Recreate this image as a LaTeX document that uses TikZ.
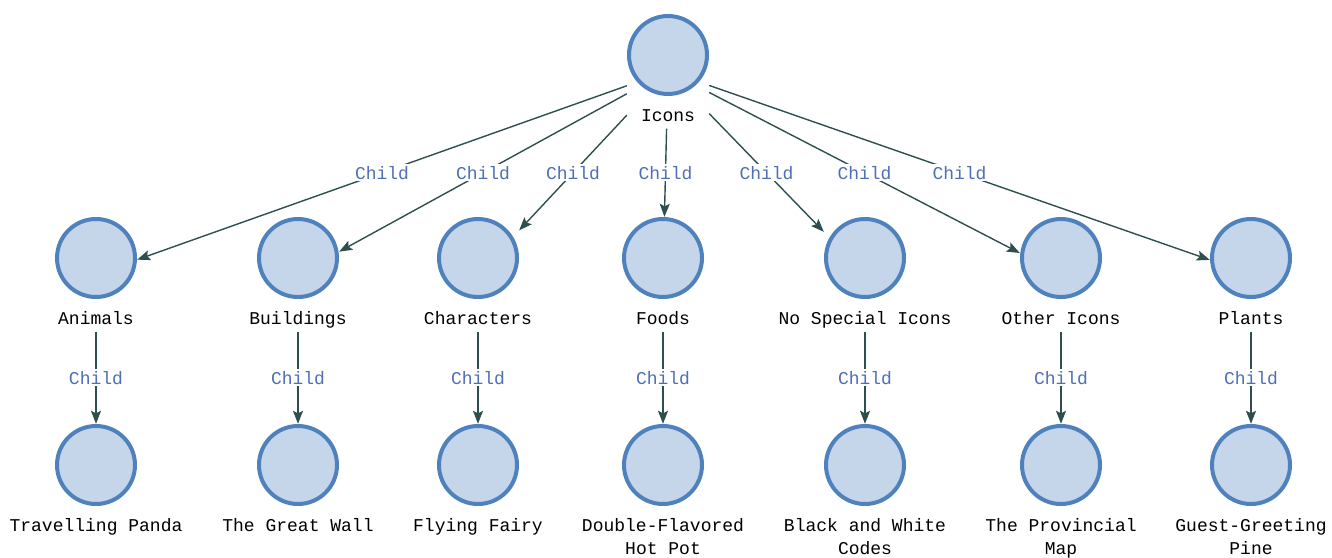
\documentclass[tikz,border=0pt]{standalone}
\usepackage{fontspec}
\setmonofont{Liberation Mono}
\usetikzlibrary{arrows.meta,fit}
\definecolor{ringc}{HTML}{4F81BD}
\definecolor{fillc}{HTML}{C5D5EA}
\definecolor{edgec}{HTML}{2F4F4F}
\definecolor{lblc}{HTML}{4F6FB5}
\tikzset{
  ent/.style={circle, draw=ringc, fill=fillc, line width=4pt, minimum size=78pt, inner sep=0pt},
  entname/.style={font=\ttfamily\fontsize{18}{23}\selectfont, align=center, inner sep=0pt, text=black, anchor=north},
  grp/.style={inner sep=0pt},
  rel/.style={draw=edgec, line width=1.4pt, -{Stealth[length=13pt,width=10pt,inset=2.5pt]}},
  rl/.style={font=\ttfamily\fontsize{18}{20}\selectfont, text=lblc, fill=white, inner sep=2pt},
}
\newcommand\mkent[4]{%
  \node[ent] (#1c) at (#2,#3) {};
  \node[entname] (#1l) at (#2,#3+50) {\strut #4};
  \coordinate (#1b) at (#2,#3+50+23.4);
  \node[fit=(#1c)(#1b), grp] (#1) {};
}
\begin{document}
\begin{tikzpicture}[x=1pt,y=-1pt]
\useasboundingbox (0,0) rectangle (1332,557);
\mkent{icons}{668}{55}{Icons}
\mkent{animals}{96}{258}{Animals}
\mkent{buildings}{298}{258}{Buildings}
\mkent{characters}{478}{258}{Characters}
\mkent{foods}{663}{258}{Foods}
\mkent{nospecial}{865}{258}{No Special Icons}
\mkent{other}{1061}{258}{Other Icons}
\mkent{plants}{1251}{258}{Plants}
\mkent{panda}{96}{465}{Travelling Panda}
\mkent{wall}{298}{465}{The Great Wall}
\mkent{fairy}{478}{465}{Flying Fairy}
\mkent{hotpot}{663}{465}{Double-Flavored\\Hot Pot}
\mkent{codes}{865}{465}{Black and White\\Codes}
\mkent{map}{1061}{465}{The Provincial\\Map}
\mkent{pine}{1251}{465}{Guest-Greeting\\Pine}
\foreach \t in {animals,buildings,characters,foods,nospecial,other,plants}
  \draw[rel] (icons) -- node[rl] (e-\t) {Child} (\t);
\foreach \s/\t in {animals/panda,buildings/wall,characters/fairy,foods/hotpot,nospecial/codes,other/map,plants/pine}
  \draw[rel] (\s) -- node[rl] (e-\t) {Child} (\t);
\end{tikzpicture}
\end{document}
